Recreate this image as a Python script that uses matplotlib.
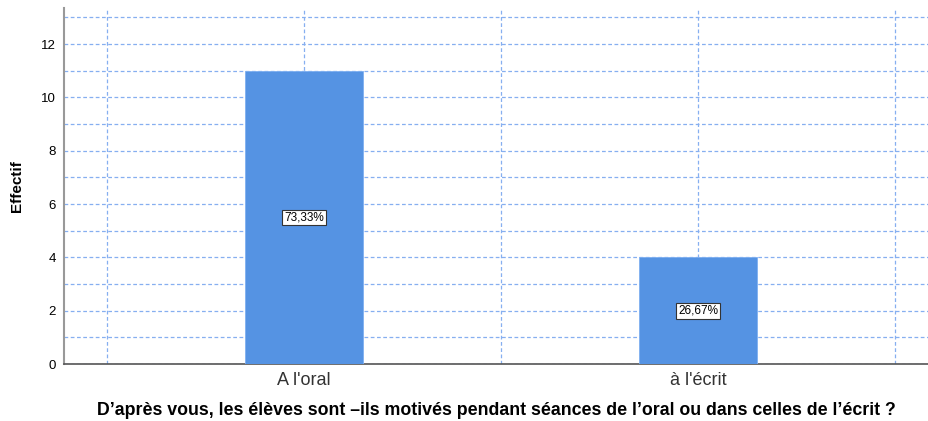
import matplotlib
matplotlib.use("Agg")
import matplotlib.pyplot as plt
from matplotlib.ticker import MultipleLocator

categories = ["A l'oral", "à l'écrit"]
counts = [11, 4]
pct_labels = ["73,33%", "26,67%"]

plt.rcParams["font.family"] = ["Liberation Sans", "DejaVu Sans"]

fig = plt.figure(figsize=(9.29, 4.21), dpi=100)
ax = fig.add_axes([0.069, 0.135, 0.931, 0.846])

x = list(range(len(categories)))
ax.bar(x, counts, width=0.3, color="#5593e3", edgecolor="#7fb0f0", linewidth=0.6, zorder=3)

for xi, c, lab in zip(x, counts, pct_labels):
    ax.text(xi, c / 2, lab, ha="center", va="center", fontsize=8.5, zorder=4,
            bbox=dict(boxstyle="square,pad=0.15", fc="white", ec="#333333", lw=0.8))

ax.set_xlim(-0.609, 1.586)
ax.set_ylim(0, 13.35)
ax.yaxis.set_major_locator(MultipleLocator(2))
ax.yaxis.set_minor_locator(MultipleLocator(1))
ax.set_xticks(x)
ax.set_xticklabels(categories, fontsize=13, color="#333333")
ax.xaxis.set_minor_locator(MultipleLocator(0.5))
ax.xaxis.set_minor_formatter(plt.NullFormatter())
ax.tick_params(axis="both", which="both", length=0)
ax.tick_params(axis="y", labelsize=9.5, pad=6)
ax.tick_params(axis="x", pad=6)

ax.grid(True, which="both", axis="both", color="#86aff0", linestyle=(0, (3, 2)), linewidth=0.9, zorder=0)
ax.set_axisbelow(True)

for s in ["top", "right"]:
    ax.spines[s].set_visible(False)
ax.spines["left"].set_color("#999999")
ax.spines["left"].set_linewidth(1.5)
ax.spines["bottom"].set_color("#555555")
ax.spines["bottom"].set_linewidth(1.2)

ax.set_ylabel("Effectif", fontsize=11, fontweight="bold", labelpad=12)
ax.set_xlabel("D’après vous, les élèves sont –ils motivés pendant séances de l’oral ou dans celles de l’écrit ?",
              fontsize=12.8, fontweight="bold", labelpad=9)

fig.savefig("out.png", dpi=100)
